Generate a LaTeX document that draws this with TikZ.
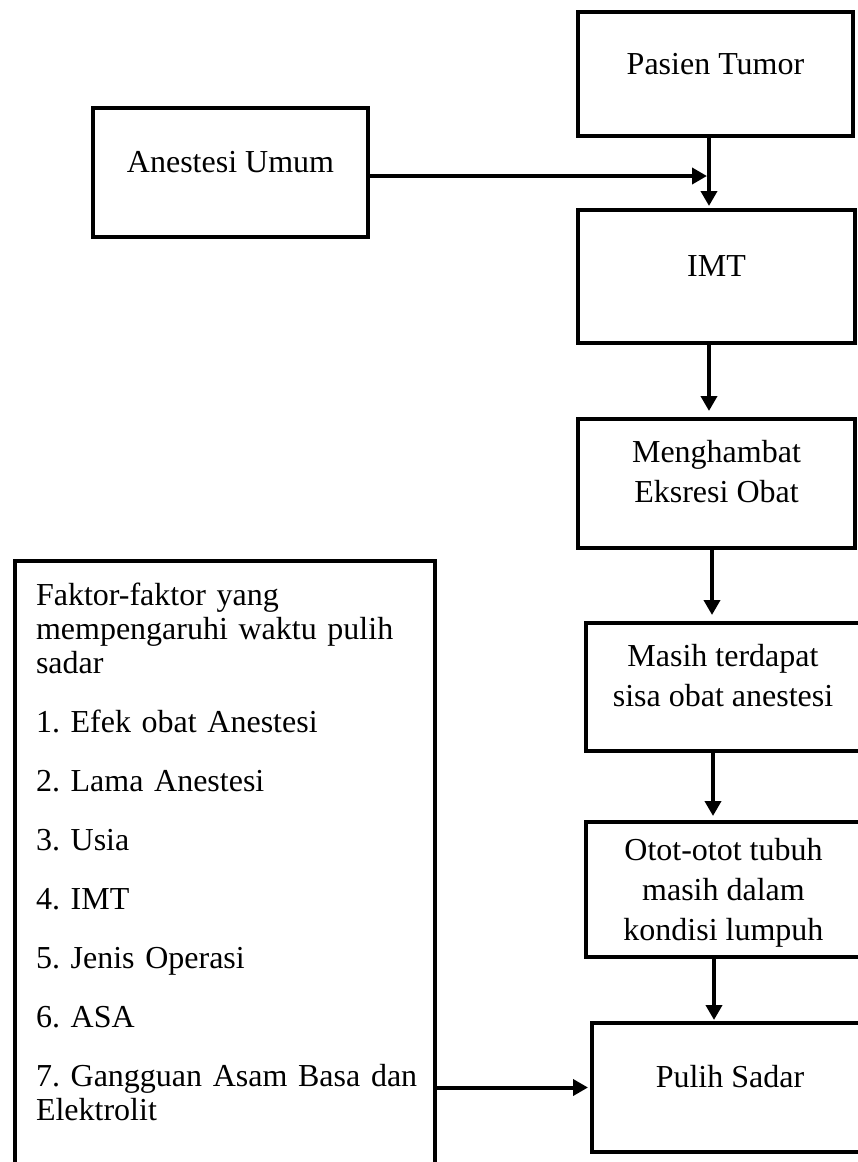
\documentclass[tikz,border=0pt]{standalone}
\usepackage{fontspec}
\setmainfont{Liberation Serif}
\usetikzlibrary{arrows.meta, positioning, calc}

\begin{document}
\begin{tikzpicture}[x=1pt, y=-1pt,
  box/.style={draw, line width=4pt, inner sep=0pt, align=center, font=\fontsize{32}{40}\selectfont},
  arr/.style={line width=4pt, -{Triangle[length=15pt, width=16pt]}}
]
  \useasboundingbox (0,0) rectangle (857,1162);
  % alur utama
  \node[box, minimum width=275pt, minimum height=124pt, text height=11pt, text depth=11pt] (pasien) at (715.5,74) {Pasien Tumor};
  \node[box, minimum width=275pt, minimum height=129pt, text height=11pt, text depth=11pt] (anestesi) at (230.5,172.5) {Anestesi Umum};
  \node[box, minimum width=277pt, minimum height=133pt, text height=11pt, text depth=11pt] (imt) at (716.5,276.5) {IMT};
  \node[box, minimum width=277pt, minimum height=129pt, text height=62pt, text depth=25pt] (hambat) at (716.5,483.5) {Menghambat\\Eksresi Obat};
  \node[box, minimum width=274pt, minimum height=128pt, text height=62pt, text depth=24pt] (sisa) at (723,687) {Masih terdapat\\sisa obat anestesi};
  \node[box, minimum width=275pt, minimum height=135pt, text height=102pt, text depth=1pt] (lumpuh) at (723.5,889.5) {Otot-otot tubuh\\masih dalam\\kondisi lumpuh};
  \node[box, minimum width=276pt, minimum height=129pt, text height=11pt, text depth=11pt] (pulih) at (730,1087.5) {Pulih Sadar};

  % faktor
  \node[draw, line width=4pt, anchor=north west, inner xsep=21pt, inner ysep=0pt, text width=378pt, align=left,
        text height=44pt, text depth=597pt, font=\fontsize{32}{34}\selectfont\frenchspacing] (faktor) at (13,559) {%
    Faktor-faktor yang\\
    mempengaruhi waktu pulih\\
    sadar\\[25pt]
    1. Efek obat Anestesi\\[25pt]
    2. Lama Anestesi\\[25pt]
    3. Usia\\[25pt]
    4. IMT\\[25pt]
    5. Jenis Operasi\\[25pt]
    6. ASA\\[25pt]
    \mbox{7. Gangguan Asam Basa dan}\\
    Elektrolit};

  \coordinate (merge) at ($(pasien.south)+(-6.5,0)$);

  \draw[arr, shorten >=2pt] (merge) -- ($(imt.north)+(-7.5,0)$);
  \draw[arr, shorten >=2pt] ($(anestesi.east)+(0,3.5)$) -- ($(anestesi.east -| merge)+(0,3.5)$);
  \draw[arr, shorten >=6pt] ($(imt.south)+(-7.5,0)$) -- ($(hambat.north)+(-7.5,0)$);
  \draw[arr, shorten >=6pt] ($(hambat.south)+(-4.5,0)$) -- ($(sisa.north)+(-11,0)$);
  \draw[arr, shorten >=4pt] ($(sisa.south)+(-10,0)$) -- ($(lumpuh.north)+(-10.5,0)$);
  \draw[arr, shorten >=1pt] ($(lumpuh.south)+(-9.5,-3)$) -- ($(pulih.north)+(-16,0)$);
  \draw[arr, shorten >=2pt] (faktor.east |- pulih.west) -- (pulih.west);
\end{tikzpicture}
\end{document}
